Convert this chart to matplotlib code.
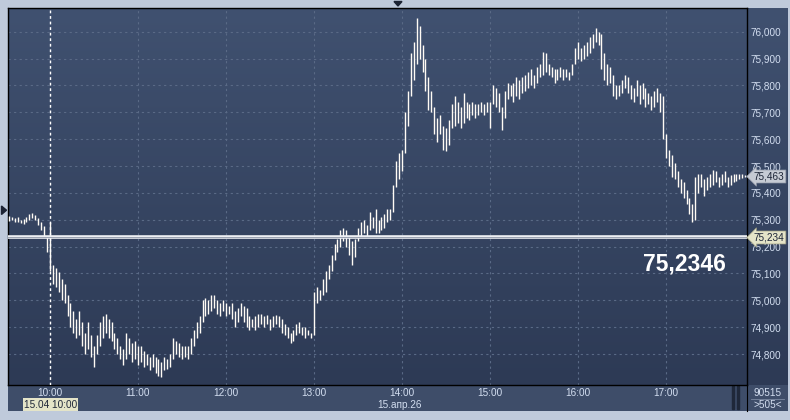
import numpy as np
import matplotlib
matplotlib.use("Agg")
import matplotlib.pyplot as plt
from matplotlib.colors import LinearSegmentedColormap
from matplotlib.patches import Polygon, Rectangle

# ---------------------------------------------------------------
# данные: 2-минутные бары, время в минутах от 10:00
# ---------------------------------------------------------------
bar_t = np.arange(-28, 476, 2)

lo = [
    75.295, 75.300, 75.292, 75.290, 75.288, 75.285, 75.292, 75.300, 75.305, 75.300,
    75.280, 75.262, 75.240, 75.180, 75.110, 75.060, 75.050, 75.030, 75.000, 74.990,
    74.940, 74.900, 74.880, 74.860, 74.870, 74.830, 74.800, 74.820, 74.790, 74.750,
    74.800, 74.830, 74.860, 74.880, 74.860, 74.850, 74.820, 74.800, 74.780, 74.760,
    74.780, 74.800, 74.770, 74.780, 74.760, 74.770, 74.750, 74.760, 74.740, 74.750,
    74.730, 74.720, 74.715, 74.740, 74.745, 74.750, 74.780, 74.800, 74.790, 74.780,
    74.790, 74.780, 74.800, 74.830, 74.860, 74.880, 74.920, 74.940, 74.950, 74.960,
    74.970, 74.950, 74.940, 74.960, 74.940, 74.950, 74.930, 74.900, 74.920, 74.940,
    74.920, 74.900, 74.890, 74.900, 74.890, 74.900, 74.910, 74.900, 74.910, 74.890,
    74.900, 74.910, 74.900, 74.880, 74.870, 74.860, 74.840, 74.850, 74.870, 74.880,
    74.870, 74.860, 74.870, 74.860, 74.870, 74.990, 75.000, 75.020, 75.030, 75.080,
    75.110, 75.150, 75.180, 75.200, 75.220, 75.200, 75.170, 75.130, 75.160, 75.220,
    75.240, 75.250, 75.240, 75.260, 75.270, 75.250, 75.250, 75.260, 75.270, 75.290,
    75.300, 75.330, 75.420, 75.450, 75.480, 75.550, 75.650, 75.760, 75.820, 75.880,
    75.900, 75.850, 75.780, 75.710, 75.700, 75.620, 75.590, 75.620, 75.560, 75.555,
    75.580, 75.640, 75.650, 75.660, 75.640, 75.660, 75.680, 75.670, 75.690, 75.680,
    75.690, 75.700, 75.690, 75.700, 75.640, 75.730, 75.720, 75.700, 75.635, 75.680,
    75.750, 75.760, 75.740, 75.760, 75.750, 75.770, 75.780, 75.790, 75.800, 75.790,
    75.810, 75.830, 75.840, 75.850, 75.840, 75.830, 75.810, 75.820, 75.830, 75.820,
    75.830, 75.820, 75.840, 75.880, 75.900, 75.890, 75.900, 75.910, 75.920, 75.940,
    75.960, 75.950, 75.860, 75.820, 75.800, 75.810, 75.760, 75.750, 75.760, 75.770,
    75.790, 75.770, 75.750, 75.740, 75.760, 75.730, 75.750, 75.720, 75.730, 75.710,
    75.720, 75.740, 75.700, 75.600, 75.530, 75.500, 75.460, 75.450, 75.420, 75.400,
    75.380, 75.360, 75.320, 75.290, 75.300, 75.400, 75.420, 75.390, 75.410, 75.420,
    75.430, 75.440, 75.420, 75.430, 75.440, 75.420, 75.430, 75.440, 75.445, 75.450,
    75.455, 75.458,
]
hi = [
    75.315, 75.310, 75.308, 75.312, 75.300, 75.302, 75.310, 75.322, 75.325, 75.318,
    75.305, 75.290, 75.275, 75.235, 75.290, 75.130, 75.120, 75.105, 75.080, 75.060,
    75.020, 74.990, 74.960, 74.930, 74.960, 74.920, 74.880, 74.920, 74.870, 74.830,
    74.870, 74.920, 74.940, 74.950, 74.930, 74.920, 74.880, 74.860, 74.830, 74.820,
    74.880, 74.860, 74.840, 74.850, 74.830, 74.830, 74.810, 74.800, 74.790, 74.800,
    74.790, 74.780, 74.770, 74.790, 74.780, 74.800, 74.860, 74.850, 74.840, 74.830,
    74.830, 74.830, 74.860, 74.890, 74.920, 74.940, 75.000, 75.010, 75.000, 75.020,
    75.020, 75.000, 74.990, 75.000, 74.990, 74.980, 74.990, 74.960, 74.970, 74.990,
    74.980, 74.970, 74.940, 74.930, 74.940, 74.950, 74.950, 74.940, 74.945, 74.930,
    74.940, 74.945, 74.940, 74.930, 74.910, 74.900, 74.880, 74.890, 74.910, 74.920,
    74.900, 74.900, 74.890, 74.880, 75.030, 75.050, 75.040, 75.080, 75.110, 75.130,
    75.170, 75.210, 75.230, 75.260, 75.270, 75.260, 75.240, 75.220, 75.230, 75.270,
    75.290, 75.300, 75.280, 75.330, 75.310, 75.340, 75.300, 75.310, 75.320, 75.340,
    75.340, 75.430, 75.520, 75.550, 75.560, 75.700, 75.780, 75.920, 75.960, 76.050,
    76.020, 75.950, 75.900, 75.830, 75.780, 75.720, 75.680, 75.690, 75.650, 75.640,
    75.670, 75.730, 75.760, 75.740, 75.720, 75.770, 75.740, 75.730, 75.740, 75.730,
    75.730, 75.740, 75.730, 75.740, 75.740, 75.800, 75.790, 75.770, 75.720, 75.780,
    75.810, 75.800, 75.810, 75.830, 75.820, 75.830, 75.840, 75.850, 75.860, 75.840,
    75.870, 75.880, 75.925, 75.920, 75.880, 75.870, 75.860, 75.860, 75.870, 75.860,
    75.860, 75.850, 75.880, 75.940, 75.960, 75.940, 75.950, 75.960, 75.980, 75.990,
    76.015, 76.000, 75.990, 75.920, 75.880, 75.870, 75.840, 75.800, 75.800, 75.820,
    75.840, 75.830, 75.800, 75.790, 75.820, 75.800, 75.810, 75.790, 75.770, 75.760,
    75.780, 75.790, 75.770, 75.760, 75.620, 75.560, 75.540, 75.510, 75.480, 75.450,
    75.440, 75.410, 75.380, 75.360, 75.460, 75.470, 75.470, 75.450, 75.460, 75.470,
    75.485, 75.480, 75.460, 75.470, 75.480, 75.460, 75.465, 75.470, 75.470, 75.470,
    75.470, 75.468,
]

last_price = 75.463
level = 75.234
level_text = "75,2346"
cursor_t = 0
cursor_label = "15.04 10:00"
date_label = "15.апр.26"
counter_top = "90515"
counter_bottom = ">505<"

ytick_vals = [74.8, 74.9, 75.0, 75.1, 75.2, 75.3, 75.4, 75.5, 75.6, 75.7, 75.8, 75.9, 76.0]
xtick_t = [0, 60, 120, 180, 240, 300, 360, 420]
xtick_lab = ["10:00", "11:00", "12:00", "13:00", "14:00", "15:00", "16:00", "17:00"]

# ---------------------------------------------------------------
W, H = 790, 420
def fx(x): return x / W
def fy(y): return 1 - y / H

plt.rcParams['font.family'] = ['Liberation Sans', 'DejaVu Sans']
FS = 7.2
LABEL_C = '#d3def0'

fig = plt.figure(figsize=(W / 100, H / 100), dpi=100)
fig.patch.set_facecolor('#bfcadb')

cmap = LinearSegmentedColormap.from_list('bg', ['#2d3a55', '#405170'])
grad = np.linspace(0, 1, 256).reshape(-1, 1)

def bare(a):
    a.set_xlim(0, 1); a.set_ylim(0, 1)
    a.set_xticks([]); a.set_yticks([])
    for s in a.spines.values():
        s.set_visible(False)

# нижняя панель времени
bax = fig.add_axes([fx(8), fy(411), 739 / W, 26 / H], zorder=1)
bax.set_facecolor('#3e4d69')
bare(bax)
bax.add_patch(Rectangle((0.9795, 0.08), 0.003, 0.88, color='#1f283a'))
bax.add_patch(Rectangle((0.9865, 0.08), 0.003, 0.88, color='#1f283a'))

# правая нижняя ячейка
cax = fig.add_axes([fx(747), fy(411), 41 / W, 26 / H], zorder=1)
cax.set_facecolor('#3e4d69')
bare(cax)
cax.spines['left'].set_visible(True)
cax.spines['left'].set_color('black')
cax.text(0.5, 0.68, counter_top, ha='center', va='center', fontsize=FS, color=LABEL_C)
cax.text(0.5, 0.22, counter_bottom, ha='center', va='center', fontsize=FS, color=LABEL_C)
cax.axhline(0.46, 0.1, 0.9, color='#7d8ba3', lw=0.6)

# правая шкала цен
rax = fig.add_axes([fx(747), fy(385), 41 / W, 376.5 / H], zorder=1)
rax.imshow(grad, cmap=cmap, origin='lower', aspect='auto', extent=[0, 1, 0, 1])
bare(rax)

# основной график
ax = fig.add_axes([fx(8), fy(385), 739 / W, 376.5 / H], zorder=3)
x0, x1 = -28.6, 475.2
y0, y1 = 74.6847, 76.0864
ax.imshow(grad, cmap=cmap, origin='lower', aspect='auto',
          extent=[x0, x1, y0, y1], zorder=0)
ax.set_xlim(x0, x1); ax.set_ylim(y0, y1)

ax.set_yticks(ytick_vals)
ax.set_yticklabels([f"{v:.3f}".replace('.', ',') for v in ytick_vals])
ax.yaxis.tick_right()
ax.set_xticks(xtick_t)
ax.set_xticklabels(xtick_lab)
ax.tick_params(axis='both', length=0, labelsize=FS, labelcolor=LABEL_C)
ax.tick_params(axis='y', pad=2.2)
ax.tick_params(axis='x', pad=2.5)
ax.grid(True, color='#5a6a86', ls=(0, (2, 3)), lw=0.8, zorder=1)
for s in ax.spines.values():
    s.set_color('black'); s.set_linewidth(1)

# бары high-low
ax.vlines(bar_t, lo, hi, colors='#fffbf5', lw=1.0, zorder=4, snap=True)

# курсор и уровень
ax.axvline(cursor_t, color='white', lw=1, ls=(0, (2, 2)), zorder=5)
ax.axhline(level, color='#eef0f4', lw=2.6, zorder=5)
ax.axhline(level, color='#8c94a4', lw=0.6, zorder=6)

ax.text(0.915, 0.322, level_text, transform=ax.transAxes, ha='center', va='center',
        fontsize=16.5, fontweight='bold', color='white', zorder=7)

# метки цены справа
fig.text(fx(769), fy(176.5), f"{last_price:.3f}".replace('.', ','), ha='center', va='center',
         fontsize=FS, color='#1e2638', zorder=10,
         bbox=dict(boxstyle='larrow,pad=0.15', fc='#c6cbd4', ec='#8d95a5', lw=0.5))
fig.text(fx(769), fy(237.5), f"{level:.3f}".replace('.', ','), ha='center', va='center',
         fontsize=FS, color='#1e2638', zorder=10,
         bbox=dict(boxstyle='larrow,pad=0.15', fc='#e4e4c8', ec='#9a9a80', lw=0.5))

# подписи снизу
fig.text(fx(50.5), fy(404.5), cursor_label, ha='center', va='center', fontsize=FS,
         color='#1e2638', zorder=10,
         bbox=dict(boxstyle='square,pad=0.12', fc='#e4e4c8', ec='none'))
fig.text(fx(400), fy(404.5), date_label, ha='center', va='center', fontsize=FS,
         color=LABEL_C, zorder=10)

# треугольники-маркеры на рамке
fig.patches.append(Polygon([[fx(394), fy(1.5)], [fx(402), fy(1.5)], [fx(398), fy(6)]],
                           closed=True, transform=fig.transFigure, color='#1c2333'))
fig.patches.append(Polygon([[fx(1.5), fy(206)], [fx(1.5), fy(214.5)], [fx(6.5), fy(210.2)]],
                           closed=True, transform=fig.transFigure, color='#1c2333'))

fig.savefig("out.png", dpi=100, facecolor=fig.get_facecolor())
